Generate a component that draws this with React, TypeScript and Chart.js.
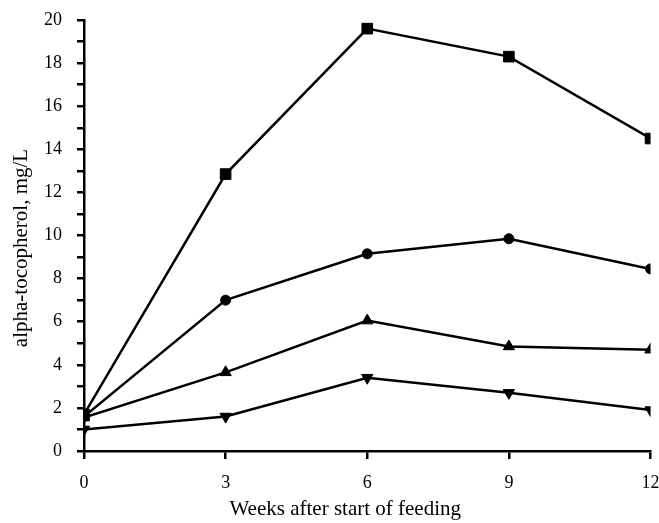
import React, { useEffect, useRef } from "react";
import { Chart, registerables } from "chart.js";

Chart.register(...registerables);

const weeks = [0, 3, 6, 9, 12];
const squareSeries = [1.7, 12.85, 19.6, 18.3, 14.5];
const circleSeries = [1.6, 7.0, 9.15, 9.85, 8.45];
const triangleSeries = [1.55, 3.65, 6.05, 4.85, 4.7];
const invTriangleSeries = [1.0, 1.6, 3.4, 2.7, 1.9];
const xTicks = [0, 3, 6, 9, 12];
const yMax = 20;
const xTitle = "Weeks after start of feeding";
const yTitle = "alpha-tocopherol, mg/L";

const toPoints = (vals: number[]) => vals.map((v, i) => ({ x: weeks[i], y: v }));

const FAMILY = "'Liberation Serif', 'Times New Roman', serif";

const titlesPlugin = {
  id: "titles",
  afterDraw(chart: any) {
    const ctx = chart.ctx;
    ctx.save();
    ctx.fillStyle = "#000";
    ctx.font = `21px ${FAMILY}`;
    ctx.textAlign = "center";
    ctx.textBaseline = "middle";
    const area = chart.chartArea;
    ctx.fillText(xTitle, (area.left + area.right) / 2 - 22, 509);
    ctx.translate(21, 248);
    ctx.rotate(-Math.PI / 2);
    ctx.fillText(yTitle, 0, 0);
    ctx.restore();
  },
};

export default function App() {
  const ref = useRef<HTMLCanvasElement | null>(null);
  useEffect(() => {
    if (!ref.current) return;
    const font = { family: FAMILY, size: 18 };
    const ds = (data: number[], style: any, radius: number, rotation = 0) => ({
      data: toPoints(data),
      borderColor: "#000",
      backgroundColor: "#000",
      borderWidth: 2.5,
      pointStyle: style,
      pointRadius: radius,
      pointRotation: rotation,
      pointBackgroundColor: "#000",
      pointBorderColor: "#000",
      pointBorderWidth: 1,
      tension: 0,
    });
    const chart = new Chart(ref.current, {
      type: "line",
      data: {
        datasets: [
          ds(squareSeries, "rect", 7.5),
          ds(circleSeries, "circle", 5),
          ds(triangleSeries, "triangle", 6.5),
          ds(invTriangleSeries, "triangle", 6.5, 180),
        ],
      },
      plugins: [titlesPlugin],
      options: {
        animation: false,
        responsive: false,
        devicePixelRatio: 1,
        layout: { padding: { left: 0, right: 8, top: 20, bottom: 0 } },
        plugins: { legend: { display: false }, tooltip: { enabled: false } },
        scales: {
          x: {
            type: "linear",
            min: 0,
            max: 12,
            afterBuildTicks: (s: any) => {
              s.ticks = xTicks.map((v) => ({ value: v }));
            },
            afterFit: (s: any) => {
              s.height = 72;
              s.paddingLeft = 0;
              s.paddingRight = 0;
            },
            border: { display: true, color: "#000", width: 2.5 },
            grid: { drawOnChartArea: false, drawTicks: true, tickLength: 8, color: "#000", lineWidth: 2.5 },
            ticks: { color: "#000", font, padding: 13, autoSkip: false, maxRotation: 0 },
            title: { display: false },
          },
          y: {
            type: "linear",
            min: 0,
            max: yMax,
            afterFit: (s: any) => {
              s.width = 84;
              s.paddingTop = 0;
              s.paddingBottom = 0;
            },
            border: { display: true, color: "#000", width: 2.5 },
            grid: { drawOnChartArea: false, drawTicks: true, tickLength: 7, color: "#000", lineWidth: 2.5 },
            ticks: {
              stepSize: 1,
              autoSkip: false,
              color: "#000",
              font,
              padding: 15,
              callback: (v: any) => (Number(v) % 2 === 0 ? String(v) : ""),
            },
            title: { display: false },
          },
        },
      },
    });
    return () => chart.destroy();
  }, []);
  return (
    <div style={{ position: "absolute", left: 0, top: 0, width: 659, height: 523, background: "#fff" }}>
      <canvas ref={ref} width={659} height={523} style={{ width: 659, height: 523 }} />
    </div>
  );
}
